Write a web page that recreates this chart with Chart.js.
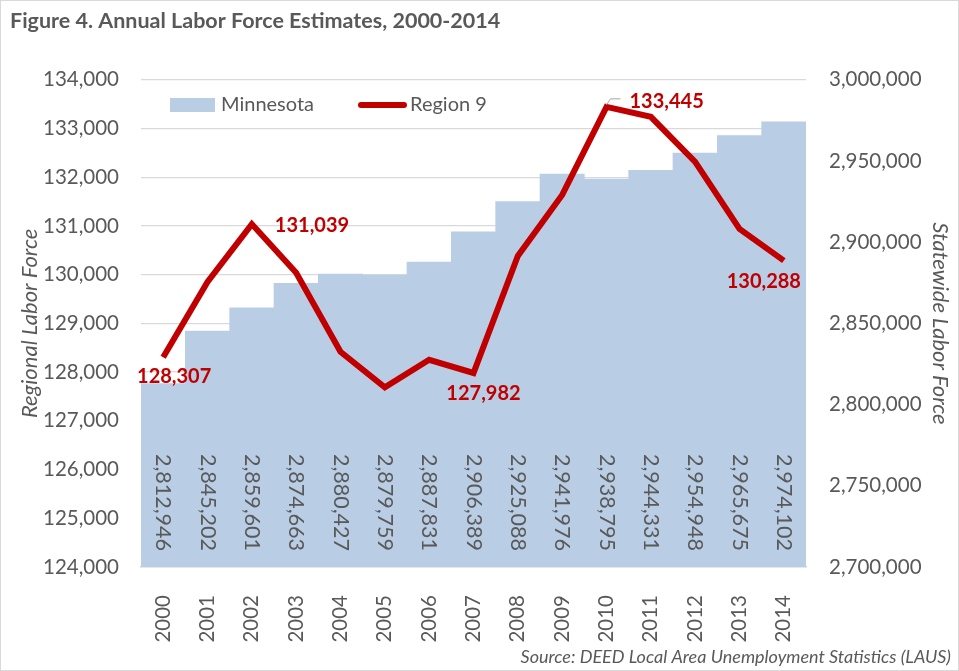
<!DOCTYPE html>
<html>
<head>
<meta charset="utf-8">
<script src="https://cdn.jsdelivr.net/npm/chart.js@4"></script>
<style>
  body { margin: 0; background: #fff; }
  #wrap { width: 959px; height: 671px; }
</style>
</head>
<body>
<div id="wrap"><canvas id="laborChart" width="959" height="671"></canvas></div>
<script>
const years = ['2000', '2001', '2002', '2003', '2004', '2005', '2006', '2007', '2008', '2009', '2010', '2011', '2012', '2013', '2014']
const minnesota = [2812946, 2845202, 2859601, 2874663, 2880427, 2879759, 2887831, 2906389, 2925088, 2941976, 2938795, 2944331, 2954948, 2965675, 2974102]
const region9 = [128307, 129850, 131039, 130041, 128417, 127686, 128253, 127982, 130384, 131637, 133445, 133240, 132316, 130938, 130288]
const regionRange = [124000, 134000, 1000]
const stateRange = [2700000, 3000000, 50000]

const grey = '#595959'
const red = '#C00000'
const blue = '#B9CDE5'
const fmt = v => Number(v).toLocaleString('en-US')

// labels the original shows on the red line: index -> [dx, dy, align]
const lineLabels = {0: [11, 19, 'center'], 2: [23, 1, 'left'], 7: [10, 21, 'center'], 10: [23, -5, 'left'], 14: [-20, 21, 'center']}

const extras = {
    id: 'extras',
    afterDatasetsDraw(chart){
        const ctx = chart.ctx
        const bottom = chart.scales.y2.bottom
        ctx.save()
        // statewide values inside the bars
        ctx.font = '21.5px Lato'
        ctx.fillStyle = grey
        ctx.textAlign = 'right'
        ctx.textBaseline = 'middle'
        chart.getDatasetMeta(0).data.forEach((b, i) => {
            ctx.save()
            ctx.translate(b.x, bottom - 16)
            ctx.rotate(Math.PI / 2)
            ctx.fillText(fmt(minnesota[i]), 0, 0)
            ctx.restore()
        })
        // region 9 labels
        const pts = chart.getDatasetMeta(1).data
        ctx.font = 'bold 20px Lato'
        ctx.fillStyle = red
        for(const k in lineLabels){
            const [dx, dy, align] = lineLabels[k]
            const p = pts[k]
            ctx.textAlign = align
            ctx.fillText(fmt(region9[k]), p.x + dx, p.y + dy)
            if(k == 10){
                ctx.strokeStyle = '#A6A6A6'
                ctx.lineWidth = 1
                ctx.beginPath()
                ctx.moveTo(p.x, p.y - 2)
                ctx.lineTo(p.x + 4, p.y - 8)
                ctx.lineTo(p.x + 14, p.y - 8)
                ctx.stroke()
            }
        }
        ctx.restore()
    },
    afterDraw(chart){
        const ctx = chart.ctx
        ctx.save()
        // legend
        ctx.fillStyle = blue
        ctx.fillRect(170, 98, 45, 14)
        ctx.strokeStyle = red
        ctx.lineWidth = 6
        ctx.lineCap = 'round'
        ctx.beginPath()
        ctx.moveTo(361, 105)
        ctx.lineTo(404, 105)
        ctx.stroke()
        ctx.font = '20px Lato'
        ctx.fillStyle = grey
        ctx.textBaseline = 'middle'
        ctx.textAlign = 'left'
        ctx.fillText(chart.data.datasets[0].label, 221, 105)
        ctx.fillText(chart.data.datasets[1].label, 410, 105)
        // source
        ctx.font = 'italic 18px Lato'
        ctx.textAlign = 'right'
        ctx.fillText('Source: DEED Local Area Unemployment Statistics (LAUS)', 951, 657)
        // frame
        ctx.strokeStyle = '#D9D9D9'
        ctx.lineWidth = 1
        ctx.strokeRect(0.5, 0.5, 958, 670)
        ctx.restore()
    }
}

const laborChart = new Chart(document.getElementById('laborChart').getContext('2d'), {
    type: 'bar',
    data: {
        labels: years,
        datasets: [{
            type: 'bar',
            label: 'Minnesota',
            data: minnesota,
            backgroundColor: blue,
            yAxisID: 'y2',
            barPercentage: 1,
            categoryPercentage: 1,
            order: 1
        }, {
            type: 'line',
            label: 'Region 9',
            data: region9,
            borderColor: red,
            borderWidth: 6,
            pointRadius: 0,
            tension: 0,
            yAxisID: 'y',
            order: 0
        }]
    },
    options: {
        responsive: false,
        animation: false,
        layout: { padding: { left: 10, right: 6, top: 0, bottom: 0 } },
        plugins: {
            legend: { display: false },
            tooltip: { enabled: false },
            title: {
                display: true,
                text: 'Figure 4. Annual Labor Force Estimates, 2000-2014',
                align: 'start',
                color: grey,
                font: { family: 'Lato', size: 21.5, weight: 'bold' },
                padding: { top: 8, bottom: 46 }
            }
        },
        scales: {
            x: {
                grid: { display: false },
                border: { color: '#D9D9D9', width: 1.5 },
                ticks: {
                    color: grey,
                    font: { family: 'Lato', size: 20.5 },
                    minRotation: 90,
                    maxRotation: 90,
                    autoSkip: false,
                    padding: 20
                },
                afterFit: s => { s.height = 104 }
            },
            y: {
                position: 'left',
                min: regionRange[0],
                max: regionRange[1],
                grid: { color: '#D9D9D9', lineWidth: 1.3, drawTicks: false },
                border: { display: false },
                ticks: {
                    stepSize: regionRange[2],
                    color: grey,
                    font: { family: 'Lato', size: 20.5 },
                    padding: 22,
                    callback: v => fmt(v)
                },
                title: {
                    display: true,
                    text: 'Regional Labor Force',
                    color: grey,
                    font: { family: 'Lato', size: 22, style: 'italic' },
                    padding: { top: 7, bottom: 0 }
                },
                afterFit: s => { s.width = 131 }
            },
            y2: {
                position: 'right',
                min: stateRange[0],
                max: stateRange[1],
                grid: { display: false, drawTicks: false },
                border: { display: false },
                ticks: {
                    stepSize: stateRange[2],
                    color: grey,
                    font: { family: 'Lato', size: 20.5 },
                    padding: 23,
                    callback: v => fmt(v)
                },
                title: {
                    display: true,
                    text: 'Statewide Labor Force',
                    color: grey,
                    font: { family: 'Lato', size: 22, style: 'italic' },
                    padding: { top: 0, bottom: 0 }
                },
                afterFit: s => { s.width = 147 }
            }
        }
    },
    plugins: [extras]
})
</script>
</body>
</html>
